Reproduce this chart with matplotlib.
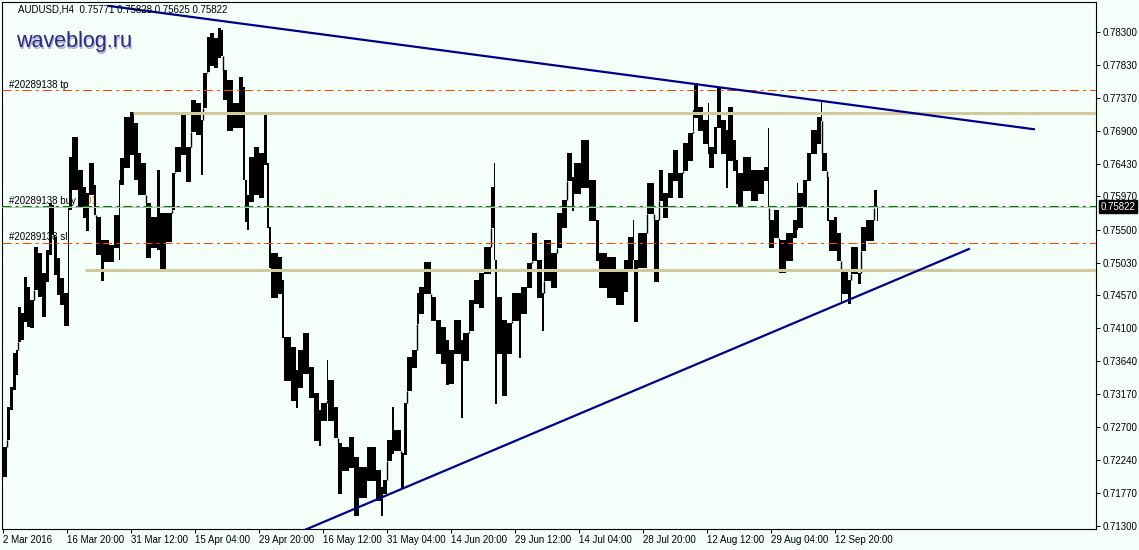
import matplotlib
matplotlib.use('Agg')
import matplotlib.pyplot as plt

plt.rcParams['font.family'] = ['Liberation Sans', 'DejaVu Sans']
plt.rcParams['lines.scale_dashes'] = False

# H4 bars in small groups: first bar index of the group, group high, group low
bar_from = [0, 4, 7, 10, 13, 15, 18, 21, 24, 27, 31, 35, 39, 43, 46, 49, 51, 54, 57, 61,
            65, 66, 69, 75, 80, 83, 86, 91, 93, 98, 101, 106, 111, 116, 117, 121, 127, 131, 135, 138,
            143, 148, 154, 157, 163, 169, 172, 178, 183, 188, 193, 198, 200, 204, 207, 211, 215, 218, 220, 224,
            230, 236, 240, 242, 244, 246, 251, 256, 261, 264, 266, 268, 275, 279, 281, 288, 293, 295, 300, 306,
            311, 316, 318, 324, 325, 331, 335, 339, 346, 351, 356, 364, 373, 378, 380, 384, 389, 391, 398, 401,
            404, 409, 414, 416, 421, 428, 433, 438, 443, 446, 451, 458, 460, 466, 471, 476, 481, 488, 491, 492,
            494, 499, 504, 509, 516, 518, 524, 529, 534, 539, 541, 548, 554, 559, 564, 569, 571, 578, 586, 593,
            596, 604, 613, 621, 625, 630, 631, 635, 644, 651, 656, 660, 665, 670, 675, 680, 685, 690, 691, 695,
            700, 705, 706, 711, 714, 718, 723, 725, 730, 733, 735, 740, 748, 755, 761, 765, 766, 771, 776, 783,
            790, 794, 795, 800, 804, 808, 814, 818, 819, 824, 826, 831, 834, 838, 839, 845, 848, 855, 858, 863,
            871, 874]
bar_high = [0.7242, 0.7299, 0.7327, 0.7375, 0.7379, 0.7440, 0.7432, 0.7483, 0.7469, 0.7450,
            0.7525, 0.7517, 0.7488, 0.7521, 0.7588, 0.7585, 0.7540, 0.7510, 0.7481, 0.7460,
            0.7582, 0.7653, 0.7681, 0.7634, 0.7610, 0.7602, 0.7644, 0.7613, 0.7568, 0.7535,
            0.7535, 0.7528, 0.7571, 0.7620, 0.7651, 0.7710, 0.7717, 0.7701, 0.7659, 0.7644,
            0.7588, 0.7568, 0.7634, 0.7574, 0.7574, 0.7630, 0.7667, 0.7715, 0.7667, 0.7734,
            0.7729, 0.7705, 0.7772, 0.7823, 0.7829, 0.7822, 0.7836, 0.7833, 0.7776, 0.7762,
            0.7729, 0.7766, 0.7752, 0.7620, 0.7599, 0.7653, 0.7667, 0.7659, 0.7717, 0.7644,
            0.7554, 0.7517, 0.7511, 0.7479, 0.7398, 0.7384, 0.7351, 0.7379, 0.7403, 0.7355,
            0.7318, 0.7294, 0.7304, 0.7365, 0.7337, 0.7299, 0.7248, 0.7242, 0.7256, 0.7228,
            0.7214, 0.7242, 0.7209, 0.7185, 0.7195, 0.7252, 0.7299, 0.7266, 0.7233, 0.7304,
            0.7370, 0.7379, 0.7460, 0.7469, 0.7504, 0.7455, 0.7422, 0.7412, 0.7394, 0.7379,
            0.7422, 0.7394, 0.7403, 0.7450, 0.7479, 0.7488, 0.7525, 0.7610, 0.7644, 0.7507,
            0.7455, 0.7422, 0.7418, 0.7460, 0.7460, 0.7469, 0.7503, 0.7545, 0.7507, 0.7460,
            0.7535, 0.7517, 0.7574, 0.7592, 0.7659, 0.7625, 0.7644, 0.7677, 0.7620, 0.7564,
            0.7517, 0.7511, 0.7493, 0.7507, 0.7540, 0.7564, 0.7507, 0.7545, 0.7616, 0.7564,
            0.7634, 0.7602, 0.7630, 0.7663, 0.7630, 0.7673, 0.7687, 0.7719, 0.7758, 0.7724,
            0.7705, 0.7729, 0.7667, 0.7695, 0.7751, 0.7705, 0.7691, 0.7724, 0.7677, 0.7649,
            0.7630, 0.7653, 0.7634, 0.7634, 0.7639, 0.7694, 0.7564, 0.7578, 0.7535, 0.7545,
            0.7564, 0.7616, 0.7602, 0.7620, 0.7659, 0.7691, 0.7710, 0.7734, 0.7659, 0.7625,
            0.7564, 0.7568, 0.7545, 0.7493, 0.7493, 0.7479, 0.7525, 0.7488, 0.7554, 0.7564,
            0.7606, 0.75828]
bar_low = [0.7199, 0.7252, 0.7294, 0.7323, 0.7344, 0.7391, 0.7394, 0.7419, 0.7412, 0.7411,
           0.7464, 0.7455, 0.7426, 0.7476, 0.7514, 0.7542, 0.7486, 0.7457, 0.7443, 0.7413,
           0.7413, 0.7578, 0.7606, 0.7581, 0.7567, 0.7548, 0.7599, 0.7571, 0.7514, 0.7477,
           0.7504, 0.7504, 0.7524, 0.7507, 0.7613, 0.7637, 0.7656, 0.7620, 0.7599, 0.7599,
           0.7510, 0.7524, 0.7521, 0.7491, 0.7532, 0.7578, 0.7632, 0.7656, 0.7618, 0.7688,
           0.7684, 0.7627, 0.7722, 0.7773, 0.7782, 0.7779, 0.7793, 0.7796, 0.7734, 0.7690,
           0.7694, 0.7694, 0.7620, 0.7561, 0.7549, 0.7589, 0.7599, 0.7595, 0.7641, 0.7552,
           0.7496, 0.7453, 0.7459, 0.7396, 0.7335, 0.7307, 0.7297, 0.7326, 0.7345, 0.7311,
           0.7250, 0.7243, 0.7279, 0.7309, 0.7279, 0.7255, 0.7175, 0.7208, 0.7212, 0.7144,
           0.7170, 0.7194, 0.7165, 0.7144, 0.7175, 0.7222, 0.7232, 0.7236, 0.7184, 0.7231,
           0.7321, 0.7354, 0.7416, 0.7430, 0.7459, 0.7420, 0.7374, 0.7360, 0.7330, 0.7331,
           0.7374, 0.7283, 0.7364, 0.7406, 0.7445, 0.7439, 0.7487, 0.7552, 0.7507, 0.7303,
           0.7374, 0.7314, 0.7374, 0.7420, 0.7368, 0.7430, 0.7467, 0.7506, 0.7453, 0.7406,
           0.7477, 0.7467, 0.7524, 0.7552, 0.7619, 0.7576, 0.7600, 0.7609, 0.7562, 0.7506,
           0.7467, 0.7453, 0.7443, 0.7462, 0.7491, 0.7507, 0.7419, 0.7496, 0.7572, 0.7476,
           0.7591, 0.7567, 0.7595, 0.7619, 0.7595, 0.7633, 0.7647, 0.7690, 0.7708, 0.7690,
           0.7671, 0.7657, 0.7637, 0.7657, 0.7694, 0.7657, 0.7609, 0.7647, 0.7633, 0.7586,
           0.7581, 0.7605, 0.7591, 0.7600, 0.7619, 0.7581, 0.7524, 0.7538, 0.7488, 0.7506,
           0.7538, 0.7549, 0.7552, 0.7581, 0.7619, 0.7657, 0.7671, 0.7704, 0.7633, 0.7562,
           0.7520, 0.7520, 0.7506, 0.7445, 0.7459, 0.7445, 0.7487, 0.7473, 0.7520, 0.7534,
           0.7581, 0.75625]
bar_end = 875

price_ticks = [0.78300, 0.77830, 0.77370, 0.76900, 0.76430, 0.75970, 0.75500, 0.75030,
               0.74570, 0.74100, 0.73640, 0.73170, 0.72700, 0.72240, 0.71770, 0.71300]
date_bars = [0, 64, 128, 192, 256, 320, 384, 448, 512, 576, 640, 704, 768, 832]
date_labels = ['2 Mar 2016', '16 Mar 20:00', '31 Mar 12:00', '15 Apr 04:00', '29 Apr 20:00',
               '16 May 12:00', '31 May 04:00', '14 Jun 20:00', '29 Jun 12:00', '14 Jul 04:00',
               '28 Jul 20:00', '12 Aug 12:00', '29 Aug 04:00', '12 Sep 20:00']

last_ohlc = [0.75771, 0.75828, 0.75625, 0.75822]
tp_price = 0.77475
buy_price = 0.75830
sl_price = 0.75310
level_hi = 0.77156
level_hi_from = 130
level_lo = 0.74933
level_lo_from = 82
trend_top_x = [105, 1032]
trend_top_y = [0.78671, 0.76920]
trend_bot_x = [302, 967]
trend_bot_y = [0.71245, 0.75231]

bg = '#F5FFFA'
fig = plt.figure(figsize=(11.39, 5.5), dpi=100, facecolor=bg)
ax = fig.add_axes([2 / 1139, 21 / 550, 1094 / 1139, 527 / 550], facecolor=bg)

# candles (grouped bars)
widths = [b - a for a, b in zip(bar_from, bar_from[1:] + [bar_end])]
heights = [h - l for h, l in zip(bar_high, bar_low)]
ax.bar([a - 0.5 for a in bar_from], heights, width=widths, bottom=bar_low,
       align='edge', color='black', linewidth=0, zorder=3)

# join groups that do not overlap, like the single long bars in the terminal
jx, j0, j1 = [], [], []
for i in range(len(bar_from) - 1):
    if bar_low[i] > bar_high[i + 1]:
        jx.append(bar_from[i + 1]); j0.append(bar_high[i + 1]); j1.append(bar_low[i])
    elif bar_high[i] < bar_low[i + 1]:
        jx.append(bar_from[i + 1]); j0.append(bar_high[i]); j1.append(bar_low[i + 1])
ax.vlines(jx, j0, j1, color='black', lw=1.0, zorder=3)

dd = (0, (6.5, 2.9, 2.2, 2.9))
ax.axhline(last_ohlc[3], color='#C0C0C0', lw=0.75, zorder=4)
ax.axhline(buy_price, color='#008000', lw=0.75, ls=dd, zorder=5)
ax.axhline(tp_price, color='#FF4500', lw=0.75, ls=dd, zorder=5)
ax.axhline(sl_price, color='#FF4500', lw=0.75, ls=dd, zorder=5)
ax.hlines([level_hi, level_lo], [level_hi_from, level_lo_from], 1100, color='#CFCB9B', lw=2.2, zorder=5)
ax.plot(trend_top_x, trend_top_y, color='#00008B', lw=1.6, zorder=6, solid_capstyle='butt')
ax.plot(trend_bot_x, trend_bot_y, color='#00008B', lw=1.6, zorder=6, solid_capstyle='butt')

fs = 7
ax.annotate('#20289138 tp', xy=(6, tp_price), xytext=(0, 0.5), textcoords='offset points',
            fontsize=fs, va='bottom', zorder=2)
ax.annotate('#20289138 buy ', xy=(6, buy_price), xytext=(0, 0.5), textcoords='offset points',
            fontsize=fs, va='bottom', zorder=2)
ax.annotate('0.01', xy=(76, buy_price), xytext=(0, 0.5), textcoords='offset points',
            fontsize=fs, va='bottom', color='#E08000', zorder=2)
ax.annotate('#20289138 sl', xy=(6, sl_price), xytext=(0, 0.5), textcoords='offset points',
            fontsize=fs, va='bottom', zorder=2)

ax.set_xlim(-1, 1093)
ax.set_ylim(0.71257, 0.78725)

ax.yaxis.tick_right()
ax.set_yticks(price_ticks)
ax.set_yticklabels(['%.5f' % p for p in price_ticks])
ax.tick_params(axis='y', length=3, width=0.7, pad=1.5, labelsize=fs, colors='black')
ax.set_xticks(date_bars)
ax.set_xticklabels(date_labels)
for t in ax.get_xticklabels():
    t.set_ha('left')
ax.tick_params(axis='x', length=3, width=0.7, pad=1.5, labelsize=fs, colors='black')
for s in ax.spines.values():
    s.set_color('black')
    s.set_linewidth(0.8)

ax.annotate('%.5f' % last_ohlc[3], xy=(1, last_ohlc[3]), xycoords=('axes fraction', 'data'),
            xytext=(3, 0), textcoords='offset points', va='center', ha='left', fontsize=fs,
            color='white', bbox=dict(boxstyle='square,pad=0.15', fc='black', ec='black'),
            annotation_clip=False)

fig.text(18 / 1139, 1 - 10 / 550, 'AUDUSD,H4  ' + ' '.join('%.5f' % v for v in last_ohlc),
         fontsize=fs, va='center', ha='left')
fig.text(17.5 / 1139, 1 - 48.5 / 550, 'waveblog.ru', fontsize=15.5, color='#A8B0D0',
         va='baseline', ha='left')
fig.text(16 / 1139, 1 - 47 / 550, 'waveblog.ru', fontsize=15.5, color='#2B2B7E',
         va='baseline', ha='left')

fig.savefig('out.png', dpi=100, facecolor=bg)
